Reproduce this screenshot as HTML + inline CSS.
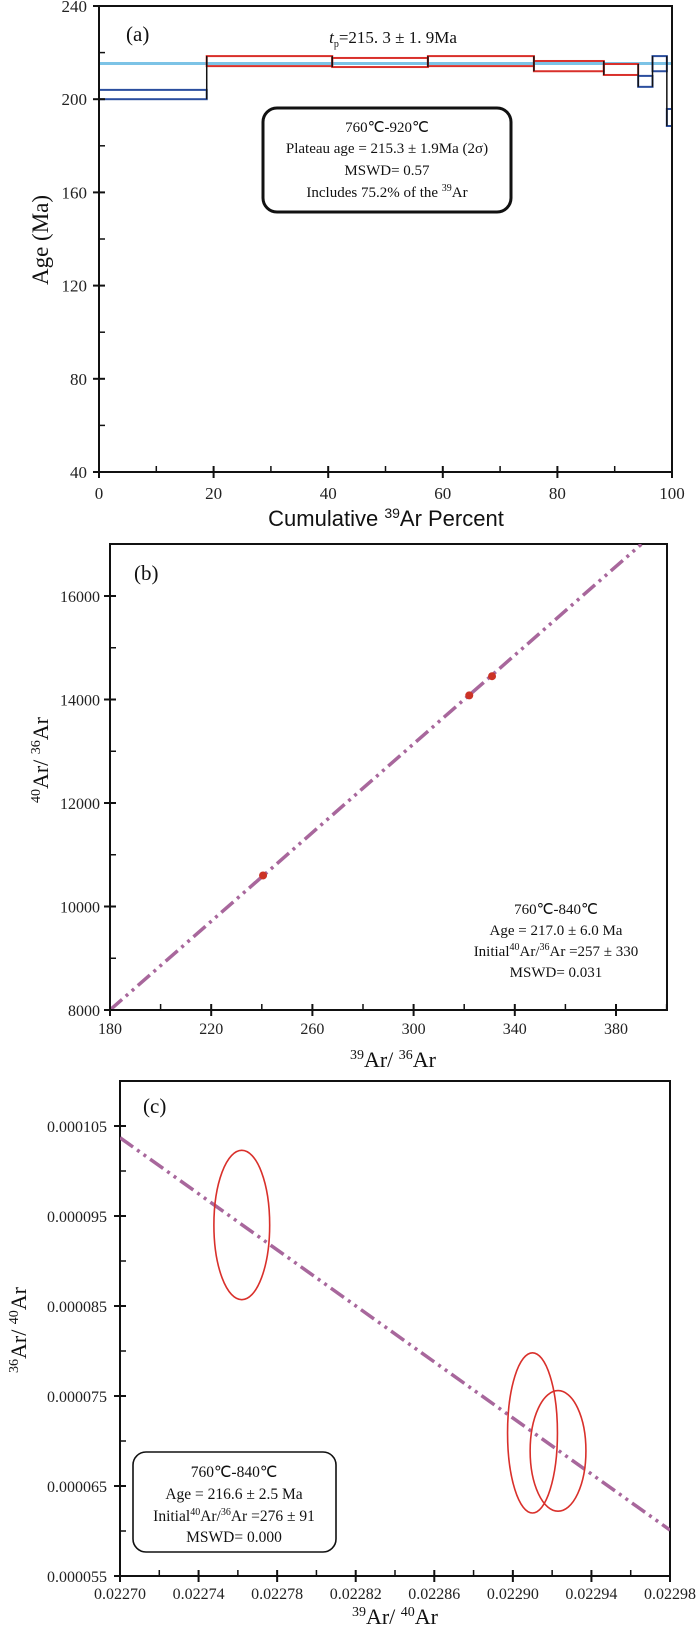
<!DOCTYPE html>
<html><head><meta charset="utf-8">
<style>
html,body{margin:0;padding:0;background:#fff;}
svg{display:block;font-family:"Liberation Serif",serif;}
</style></head>
<body>
<svg id="fig" width="700" height="1639" viewBox="0 0 700 1639" xmlns="http://www.w3.org/2000/svg"></svg>
<script>
// ---------- Panel (a) data ----------
const aStepStart = [0, 18.8, 40.7, 57.4, 75.9, 88.1, 94.1, 96.6, 99.1];
const aStepEnd   = [18.8, 40.7, 57.4, 75.9, 88.1, 94.1, 96.6, 99.1, 100];
const aAgeLow    = [200, 214.2, 213.8, 214.2, 212, 210.4, 205.3, 212, 188.5];
const aAgeHigh   = [204, 218.5, 217.7, 218.5, 216.4, 215.1, 210, 218.5, 195.8];
const aStepColor = ["blue","red","red","red","red","red","blue","blue","blue"];
const aPlateau = [215.3];
const aYTicks = [40, 80, 120, 160, 200, 240];
const aXTicks = [0, 20, 40, 60, 80, 100];
// ---------- Panel (b) data ----------
const bX = [240.5, 322, 331];
const bY = [10600, 14080, 14450];
const bLineX = [180, 390];
const bLineY = [8000, 17000];
const bXTicks = [180, 220, 260, 300, 340, 380];
const bYTicks = [8000, 10000, 12000, 14000, 16000];
// ---------- Panel (c) data ----------
const cX = [0.022762, 0.022910, 0.022923];
const cY = [0.0000940, 0.0000709, 0.0000689];
const cXErr = [0.0000142, 0.0000127, 0.0000142];
const cYErr = [0.0000083, 0.0000089, 0.0000067];
const cLineX = [0.02270, 0.02298];
const cLineY = [0.0001037, 0.0000601];
const cXTicks = [0.02270, 0.02274, 0.02278, 0.02282, 0.02286, 0.02290, 0.02294, 0.02298];
const cYTicks = [0.000055, 0.000065, 0.000075, 0.000085, 0.000095, 0.000105];

const NS = "http://www.w3.org/2000/svg";
const svg = document.getElementById("fig");
function mk(tag, attrs, parent, text){
  const e = document.createElementNS(NS, tag);
  for (const k in attrs) e.setAttribute(k, attrs[k]);
  if (text !== undefined) e.textContent = text;
  (parent || svg).appendChild(e);
  return e;
}
function lin(d0,d1,r0,r1){ return v => r0 + (v-d0)/(d1-d0)*(r1-r0); }
const PURPLE = "#a8679c";
const DASH = "16 5 3 5 3 5";

// ================= Panel (a) =================
const gA = mk("g", {});


const ax = lin(0,100,99,672), ay = lin(40,240,472,6);
// plateau line
const pl = mk("line", {x1:ax(0), x2:ax(100), y1:ay(aPlateau[0]), y2:ay(aPlateau[0]), stroke:"#7cc3e6", "stroke-width":3}, gA);


for (let i=0;i<aStepStart.length;i++){
  const col = aStepColor[i]==="red" ? "#d9302b" : "#2b4e9e";
  const r = mk("rect", {x:ax(aStepStart[i]), y:ay(aAgeHigh[i]), width:ax(aStepEnd[i])-ax(aStepStart[i]), height:ay(aAgeLow[i])-ay(aAgeHigh[i]), fill:"none", stroke:col, "stroke-width":2}, gA);
  
  
  if (i>0){
    const lo = Math.min(aAgeLow[i],aAgeLow[i-1]), hi = Math.max(aAgeHigh[i],aAgeHigh[i-1]);
    const c = mk("line", {x1:ax(aStepStart[i]), x2:ax(aStepStart[i]), y1:ay(hi), y2:ay(lo), stroke:"#111", "stroke-width":1.5}, gA);
    
    
  }
}
const fa = mk("rect", {x:99, y:6, width:573, height:466, fill:"none", stroke:"#111", "stroke-width":2}, gA);


aYTicks.forEach((v,i)=>{
  const y = ay(v);
  mk("line",{x1:93,x2:105,y1:y,y2:y,stroke:"#111","stroke-width":2},gA);
  if (i<aYTicks.length-1){ const ym=ay(v+20); mk("line",{x1:99,x2:105,y1:ym,y2:ym,stroke:"#111","stroke-width":1.5},gA); }
  const t = mk("text",{x:87,y:y+6,"text-anchor":"end","font-size":17,fill:"#222"},gA,String(v));
  
  
});
aXTicks.forEach((v,i)=>{
  const x = ax(v);
  mk("line",{x1:x,x2:x,y1:466,y2:478,stroke:"#111","stroke-width":2},gA);
  if (i<aXTicks.length-1){ const xm=ax(v+10); mk("line",{x1:xm,x2:xm,y1:466,y2:472,stroke:"#111","stroke-width":1.5},gA); }
  const t = mk("text",{x:x,y:499,"text-anchor":"middle","font-size":17,fill:"#222"},gA,String(v));
  
  
});
</script>
<script>
// static texts panel a
(function(){
  const g = document.createElementNS("http://www.w3.org/2000/svg","g");
  g.innerHTML =
   '<text x="126" y="41" font-size="21" fill="#111">(a)</text>'+
   '<text x="393" y="43" text-anchor="middle" font-size="17" fill="#111"><tspan font-style="italic">t</tspan><tspan font-size="10" dy="4">p</tspan><tspan dy="-4">=215. 3 ± 1. 9Ma</tspan></text>'+
   '<rect x="263" y="108" width="248" height="104" rx="14" fill="#fff" stroke="#111" stroke-width="3"/>'+
   '<text x="387" y="132" text-anchor="middle" font-size="15" fill="#111">760℃-920℃</text>'+
   '<text x="387" y="153" text-anchor="middle" font-size="15" fill="#111">Plateau age = 215.3  ± 1.9Ma  (2σ)</text>'+
   '<text x="387" y="175" text-anchor="middle" font-size="15" fill="#111">MSWD= 0.57</text>'+
   '<text x="387" y="197" text-anchor="middle" font-size="15" fill="#111">Includes 75.2% of the <tspan font-size="10" dy="-6">39</tspan><tspan dy="6">Ar</tspan></text>'+
   '<text x="48" y="240" text-anchor="middle" font-size="23" fill="#111" transform="rotate(-90 48 240)">Age (Ma)</text>'+
   '<text x="386" y="526" text-anchor="middle" font-size="22" fill="#111" font-family="Liberation Sans Narrow, Liberation Sans, sans-serif">Cumulative <tspan font-size="14" dy="-8">39</tspan><tspan dy="8">Ar Percent</tspan></text>';
  document.getElementById("fig").appendChild(g);
})();
</script>
<script>
// ================= Panel (b) =================
(function(){
const gB = mk("g", {});


const bx = lin(180,380,110,616), by = lin(8000,16000,1010,596);
mk("rect",{x:110,y:544,width:557,height:466,fill:"none",stroke:"#111","stroke-width":2},gB);
const cp = mk("clipPath",{id:"clipB"},gB); mk("rect",{x:110,y:544,width:557,height:466},cp);
const ln = mk("line",{x1:bx(bLineX[0]),y1:by(bLineY[0]),x2:bx(bLineX[1]),y2:by(bLineY[1]),stroke:PURPLE,"stroke-width":3.5,"stroke-dasharray":DASH,"clip-path":"url(#clipB)"},gB);


for (let i=0;i<bX.length;i++){
  const p = mk("circle",{cx:bx(bX[i]),cy:by(bY[i]),r:4,fill:"#cc3326"},gB);
  
  
}
bYTicks.forEach((v,i)=>{
  const y=by(v);
  mk("line",{x1:104,x2:116,y1:y,y2:y,stroke:"#111","stroke-width":2},gB);
  if(i<bYTicks.length-1){const ym=by(v+1000);mk("line",{x1:110,x2:116,y1:ym,y2:ym,stroke:"#111","stroke-width":1.5},gB);}
  const t=mk("text",{x:100,y:y+6,"text-anchor":"end","font-size":16,fill:"#222"},gB,String(v));
  
  
});
bXTicks.forEach((v,i)=>{
  const x=bx(v);
  mk("line",{x1:x,x2:x,y1:1004,y2:1016,stroke:"#111","stroke-width":2},gB);
  const xm=bx(v+20); if (xm<667) mk("line",{x1:xm,x2:xm,y1:1004,y2:1010,stroke:"#111","stroke-width":1.5},gB);
  const t=mk("text",{x:x,y:1034,"text-anchor":"middle","font-size":16,fill:"#222"},gB,String(v));
  
  
});
})();
</script>
<script>
(function(){
  const g = document.createElementNS("http://www.w3.org/2000/svg","g");
  g.innerHTML =
   '<text x="134" y="580" font-size="21" fill="#111">(b)</text>'+
   '<text x="556" y="914" text-anchor="middle" font-size="15" fill="#111">760℃-840℃</text>'+
   '<text x="556" y="935" text-anchor="middle" font-size="15" fill="#111">Age = 217.0 ± 6.0 Ma</text>'+
   '<text x="556" y="956" text-anchor="middle" font-size="15" fill="#111">Initial<tspan font-size="10" dy="-6">40</tspan><tspan dy="6">Ar/</tspan><tspan font-size="10" dy="-6">36</tspan><tspan dy="6">Ar =257 ± 330</tspan></text>'+
   '<text x="556" y="977" text-anchor="middle" font-size="15" fill="#111">MSWD= 0.031</text>'+
   '<text x="48" y="760" text-anchor="middle" font-size="22" fill="#111" transform="rotate(-90 48 760)"><tspan font-size="14" dy="-8">40</tspan><tspan dy="8">Ar/ </tspan><tspan font-size="14" dy="-8">36</tspan><tspan dy="8">Ar</tspan></text>'+
   '<text x="393" y="1067" text-anchor="middle" font-size="22" fill="#111"><tspan font-size="14" dy="-8">39</tspan><tspan dy="8">Ar/ </tspan><tspan font-size="14" dy="-8">36</tspan><tspan dy="8">Ar</tspan></text>';
  document.getElementById("fig").appendChild(g);
})();
</script>
<script>
// ================= Panel (c) =================
(function(){
const gC = mk("g", {});


const cx = lin(0.02270,0.02298,120,670), cy = lin(0.000055,0.000105,1576,1126);
mk("rect",{x:120,y:1081,width:550,height:495,fill:"none",stroke:"#111","stroke-width":2},gC);
const cp = mk("clipPath",{id:"clipC"},gC); mk("rect",{x:120,y:1081,width:550,height:495},cp);
const ln = mk("line",{x1:cx(cLineX[0]),y1:cy(cLineY[0]),x2:cx(cLineX[1]),y2:cy(cLineY[1]),stroke:PURPLE,"stroke-width":3.5,"stroke-dasharray":DASH,"clip-path":"url(#clipC)"},gC);


for (let i=0;i<cX.length;i++){
  const e = mk("ellipse",{cx:cx(cX[i]),cy:cy(cY[i]),rx:cx(cX[i]+cXErr[i])-cx(cX[i]),ry:cy(cY[i])-cy(cY[i]+cYErr[i]),fill:"none",stroke:"#d9302b","stroke-width":1.6},gC);
  
  
}
cYTicks.forEach((v,i)=>{
  const y=cy(v);
  mk("line",{x1:114,x2:126,y1:y,y2:y,stroke:"#111","stroke-width":2},gC);
  if(i<cYTicks.length-1){const ym=cy(v+0.000005);mk("line",{x1:120,x2:126,y1:ym,y2:ym,stroke:"#111","stroke-width":1.5},gC);}
  const t=mk("text",{x:107,y:y+6,"text-anchor":"end","font-size":16,fill:"#222"},gC,v.toFixed(6));
  
  
});
cXTicks.forEach((v,i)=>{
  const x=cx(v);
  mk("line",{x1:x,x2:x,y1:1570,y2:1582,stroke:"#111","stroke-width":2},gC);
  if(i<cXTicks.length-1){const xm=cx(v+0.00002);mk("line",{x1:xm,x2:xm,y1:1570,y2:1576,stroke:"#111","stroke-width":1.5},gC);}
  const t=mk("text",{x:x,y:1599,"text-anchor":"middle","font-size":16,fill:"#222"},gC,v.toFixed(5));
  
  
});
})();
</script>
<script>
(function(){
  const g = document.createElementNS("http://www.w3.org/2000/svg","g");
  g.innerHTML =
   '<text x="143" y="1113" font-size="21" fill="#111">(c)</text>'+
   '<rect x="133" y="1452" width="203" height="100" rx="13" fill="#fff" stroke="#111" stroke-width="1.6"/>'+
   '<text x="234" y="1477" text-anchor="middle" font-size="15.5" fill="#111">760℃-840℃</text>'+
   '<text x="234" y="1499" text-anchor="middle" font-size="15.5" fill="#111">Age = 216.6 ± 2.5 Ma</text>'+
   '<text x="234" y="1521" text-anchor="middle" font-size="15.5" fill="#111">Initial<tspan font-size="10" dy="-6">40</tspan><tspan dy="6">Ar/</tspan><tspan font-size="10" dy="-6">36</tspan><tspan dy="6">Ar =276 ± 91</tspan></text>'+
   '<text x="234" y="1542" text-anchor="middle" font-size="15.5" fill="#111">MSWD= 0.000</text>'+
   '<text x="26" y="1330" text-anchor="middle" font-size="22" fill="#111" transform="rotate(-90 26 1330)"><tspan font-size="14" dy="-8">36</tspan><tspan dy="8">Ar/ </tspan><tspan font-size="14" dy="-8">40</tspan><tspan dy="8">Ar</tspan></text>'+
   '<text x="395" y="1624" text-anchor="middle" font-size="22" fill="#111"><tspan font-size="14" dy="-8">39</tspan><tspan dy="8">Ar/ </tspan><tspan font-size="14" dy="-8">40</tspan><tspan dy="8">Ar</tspan></text>';
  document.getElementById("fig").appendChild(g);
})();
</script>
</body></html>
